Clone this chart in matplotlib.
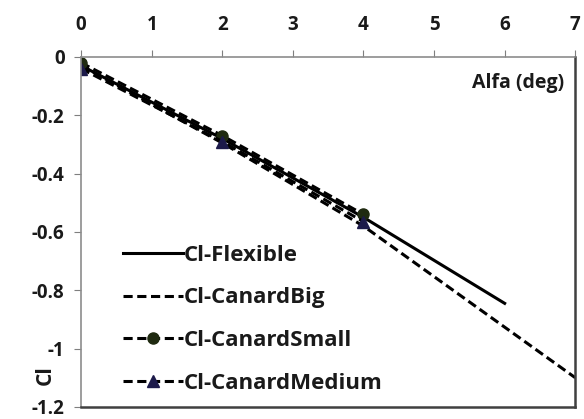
import matplotlib.pyplot as plt

# values
alfa_flex = [0, 2, 4, 6]
cl_flex = [-0.03, -0.28, -0.55, -0.845]

alfa_big = [0, 2, 4, 7]
cl_big = [-0.03, -0.295, -0.58, -1.10]

alfa_small = [0, 2, 4]
cl_small = [-0.02, -0.27, -0.54]

alfa_medium = [0, 2, 4]
cl_medium = [-0.04, -0.29, -0.565]

x_ticks = [0, 1, 2, 3, 4, 5, 6, 7]
y_ticks = [0, -0.2, -0.4, -0.6, -0.8, -1, -1.2]
y_labels = ["0", "-0.2", "-0.4", "-0.6", "-0.8", "-1", "-1.2"]

plt.rcParams["font.family"] = ["Open Sans", "DejaVu Sans"]

fig = plt.figure(figsize=(5.84, 4.19), dpi=100)
ax = fig.add_axes([0.139, 0.029, 0.846, 0.835])

dash = (0, (3.0, 1.5))
ax.plot(alfa_flex, cl_flex, color="black", lw=2.2, label="Cl-Flexible")
ax.plot(alfa_big, cl_big, color="black", lw=2.2, linestyle=dash, label="Cl-CanardBig")
ax.plot(alfa_small, cl_small, color="black", lw=2.2, linestyle=dash,
        marker="o", markersize=8, markerfacecolor="#1f2a10",
        markeredgecolor="#1f2a10", label="Cl-CanardSmall")
ax.plot(alfa_medium, cl_medium, color="black", lw=2.2, linestyle=dash,
        marker="^", markersize=9, markerfacecolor="#1c1a4a",
        markeredgecolor="#1c1a4a", label="Cl-CanardMedium")

ax.set_xlim(0, 7)
ax.set_ylim(-1.2, 0)
ax.xaxis.tick_top()
ax.set_xticks(x_ticks)
ax.set_yticks(y_ticks)
ax.set_yticklabels(y_labels)
ax.tick_params(axis="both", labelsize=13.5, colors="#7f7f7f", length=5,
               labelcolor="#1a1a1a")
ax.tick_params(axis="x", pad=11)
ax.tick_params(axis="y", pad=7)
for lbl in ax.get_xticklabels() + ax.get_yticklabels():
    lbl.set_fontweight("bold")

for side in ["top", "left"]:
    ax.spines[side].set_color("#8c8c8c")
    ax.spines[side].set_linewidth(1.2)
for side in ["right", "bottom"]:
    ax.spines[side].set_color("#404040")
    ax.spines[side].set_linewidth(1.8)

ax.text(0.978, 0.925, "Alfa (deg)", transform=ax.transAxes, ha="right",
        va="center", fontsize=14, fontweight="bold", color="#1a1a1a")
ax.text(-0.073, 0.09, "Cl", transform=ax.transAxes, rotation=90,
        ha="center", va="center", fontsize=15, fontweight="bold",
        color="#1a1a1a")

leg = ax.legend(loc="lower left", bbox_to_anchor=(0.045, -0.02), frameon=False,
                fontsize=16, handlelength=2.7, handletextpad=0.0,
                labelspacing=0.98)
for t in leg.get_texts():
    t.set_fontweight("bold")
    t.set_color("#1a1a1a")

fig.savefig("out.png", dpi=100)
